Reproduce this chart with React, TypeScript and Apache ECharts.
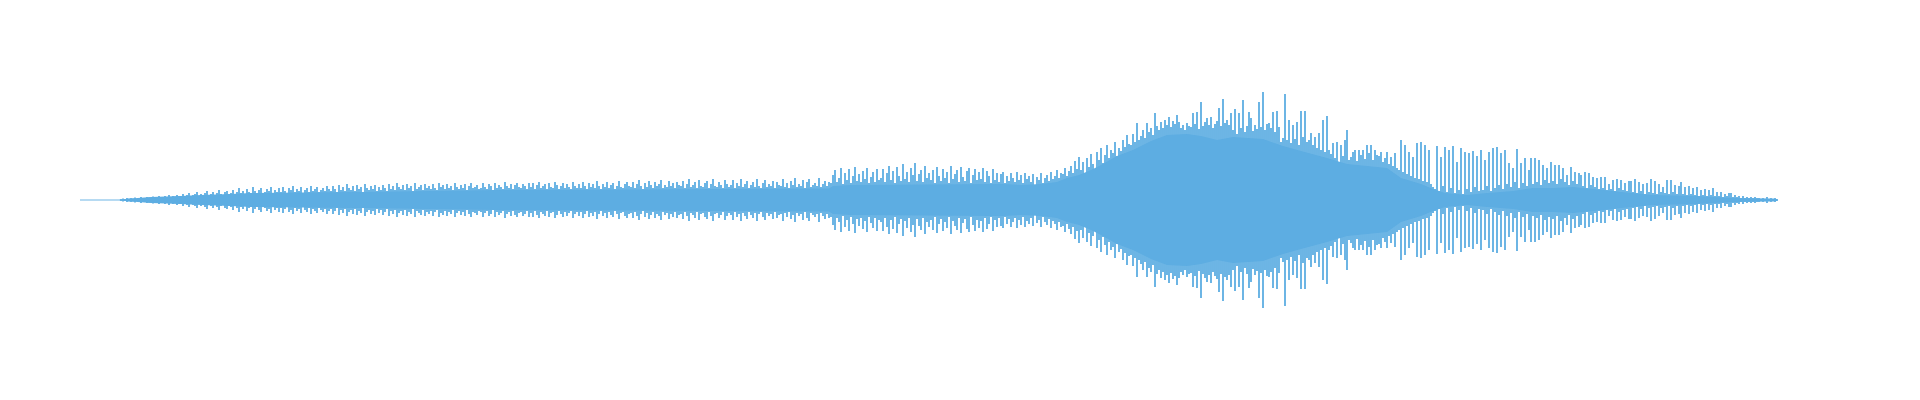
import React, { useEffect, useRef } from "react";
import * as echarts from "echarts";

// Amplitude of each sample bar (drawn mirrored above and below zero)
const SPIKE_AMPLITUDE: number[] = [
  0.5, 0.5, 0.5, 0.5, 0.5, 0.5, 0.5, 0.5, 0.5, 0.5, 0.5, 0.5, 0.5, 0.5, 0.5, 0.5, 0.5, 0.5, 0.5, 0.5, 1, 1.5, 1, 2, 1.5,
  2, 1.5, 2.5, 1, 2, 3, 2, 1.5, 3, 2.5, 2, 3.5, 2, 3, 4, 2.5, 3, 4, 3, 5, 3, 4, 3.5, 5, 4,
  4, 6, 3, 5, 7, 4, 5, 6, 8, 4, 6, 5, 7, 9, 5, 6, 8, 5, 7, 10, 6, 5, 8, 9, 6,
  7, 10, 6, 8, 12, 7, 9, 6, 11, 8, 7, 13, 9, 6, 10, 12, 7, 8, 11, 9, 13, 7, 10, 8, 12,
  8, 13, 9, 7, 12, 10, 14, 8, 11, 9, 13, 7, 10, 12, 8, 14, 9, 11, 13, 8, 10, 12, 9, 14, 11,
  9, 14, 11, 8, 15, 10, 13, 9, 16, 12, 10, 14, 9, 15, 11, 13, 8, 16, 12, 10, 14, 11, 15, 9, 13,
  10, 15, 12, 9, 16, 11, 14, 10, 17, 13, 11, 15, 10, 16, 12, 14, 9, 17, 11, 13, 15, 10, 16, 12, 14,
  11, 16, 12, 10, 17, 13, 15, 11, 16, 12, 14, 10, 17, 13, 11, 15, 12, 16, 10, 14, 17, 12, 13, 15, 11,
  12, 17, 13, 11, 16, 14, 10, 17, 12, 15, 13, 11, 18, 14, 12, 16, 11, 15, 17, 13, 12, 16, 14, 11, 17,
  13, 17, 11, 15, 18, 12, 14, 16, 11, 17, 13, 12, 18, 15, 11, 14, 17, 12, 16, 13, 11, 18, 14, 12, 16,
  12, 18, 14, 11, 17, 13, 16, 12, 19, 14, 11, 16, 13, 18, 12, 15, 17, 11, 14, 19, 13, 12, 16, 18, 14,
  13, 18, 12, 16, 20, 14, 11, 17, 13, 19, 15, 12, 18, 14, 16, 20, 12, 15, 13, 19, 14, 17, 12, 18, 15,
  14, 19, 12, 16, 21, 13, 15, 18, 12, 20, 14, 13, 17, 19, 12, 16, 21, 14, 13, 18, 15, 12, 20, 16, 13,
  15, 20, 12, 17, 14, 21, 13, 16, 19, 12, 15, 18, 13, 21, 14, 12, 17, 20, 13, 16, 14, 19, 12, 18, 15,
  14, 21, 13, 17, 12, 19, 15, 22, 13, 16, 14, 20, 12, 18, 21, 13, 15, 17, 14, 22, 13, 16, 19, 14, 18,
  17, 25, 30, 18, 22, 32, 16, 27, 20, 31, 17, 24, 33, 19, 26, 18, 29, 21, 32, 17, 23, 28, 18, 31, 20,
  22, 31, 18, 27, 34, 20, 29, 17, 33, 24, 19, 36, 21, 28, 18, 32, 25, 37, 19, 26, 30, 18, 34, 22, 27,
  20, 30, 17, 33, 24, 19, 31, 22, 28, 17, 34, 21, 26, 30, 18, 33, 23, 19, 29, 32, 17, 25, 31, 20, 28,
  21, 32, 18, 29, 24, 17, 31, 20, 27, 18, 26, 28, 17, 24, 19, 27, 22, 18, 28, 20, 25, 17, 27, 21, 24,
  18, 26, 15, 23, 20, 27, 17, 22, 25, 19, 28, 21, 24, 30, 22, 27, 26, 32, 24, 29, 34, 27, 39, 31, 43,
  30, 38, 27, 42, 33, 46, 36, 30, 48, 40, 52, 37, 45, 55, 42, 50, 47, 58, 44, 52, 49, 60, 53, 65, 56,
  55, 66, 58, 77, 60, 64, 70, 62, 77, 68, 72, 65, 87, 74, 70, 78, 72, 80, 75, 83, 73, 79, 76, 85, 78,
  72, 75, 70, 77, 74, 73, 87, 76, 88, 71, 98, 74, 78, 82, 75, 83, 72, 76, 79, 92, 74, 101, 77, 80, 75,
  87, 70, 91, 66, 87, 72, 100, 68, 74, 88, 82, 69, 75, 71, 98, 73, 108, 70, 76, 77, 72, 88, 68, 89, 73,
  58, 62, 106, 60, 80, 57, 75, 61, 78, 55, 89, 63, 89, 58, 60, 67, 55, 63, 52, 67, 50, 80, 48, 84, 50,
  46, 57, 42, 58, 38, 55, 44, 60, 70, 40, 43, 48, 50, 39, 50, 45, 50, 41, 55, 47, 55, 40, 50, 45, 44,
  48, 38, 42, 48, 36, 43, 34, 47, 32, 30, 60, 28, 55, 26, 48, 24, 43, 22, 57, 21, 58, 19, 55, 18, 50,
  16, 13, 11, 54, 9, 43, 14, 53, 8, 50, 12, 54, 7, 38, 10, 52, 6, 48, 11, 47, 8, 49, 13, 44, 9,
  50, 10, 40, 14, 48, 9, 52, 12, 53, 15, 47, 11, 50, 16, 37, 13, 32, 18, 51, 12, 37, 17, 42, 14, 30,
  42, 16, 42, 18, 40, 15, 35, 20, 32, 17, 38, 19, 35, 16, 35, 21, 32, 18, 25, 15, 33, 19, 28, 16, 27,
  25, 14, 28, 12, 27, 15, 23, 13, 22, 11, 23, 12, 23, 10, 16, 11, 20, 9, 21, 12, 20, 10, 17, 9, 19,
  19, 8, 21, 7, 18, 9, 16, 6, 17, 8, 21, 7, 19, 6, 16, 8, 13, 7, 20, 6, 20, 8, 15, 6, 14,
  18, 6, 13, 5, 14, 6, 12, 5, 13, 4, 10, 5, 11, 4, 10, 5, 12, 4, 8, 4, 8, 3, 6, 4, 7,
  7, 3, 5, 3, 4, 2, 4, 2, 3, 2, 3, 2, 3, 2, 2, 1.5, 2, 1.5, 3, 1.5, 2, 1.5, 2, 1,
];

// Dense body of the waveform: sample index -> amplitude
const CORE_INDEX: number[] = [
  0, 19, 20, 25, 35, 50, 60, 75, 85, 110, 140, 175, 210, 285, 320, 374, 376, 385, 460, 470, 480, 488, 493, 499,
  505, 510, 518, 526, 535, 543, 553, 560, 568, 576, 591, 601, 610, 623, 633, 643, 653, 660, 670, 676, 682, 693,
  703, 716, 726, 736, 746, 756, 766, 770, 786, 796, 808, 816, 826, 835, 848,
];
const CORE_AMPLITUDE: number[] = [
  0, 0, 0.5, 1.5, 3, 4, 5, 6, 7, 7.5, 8, 9, 10, 10.5, 11, 11.5, 14, 15, 16, 15, 16, 18, 22, 25,
  30, 35, 44, 50, 59, 65, 66, 64, 60, 63, 61, 54, 49, 42, 36, 34, 32, 22, 16, 11, 7, 5,
  7, 9, 12, 12, 13, 11, 9, 8, 5, 4.5, 4, 3, 2, 1.5, 1,
];

const COLOR = "#5dade2";

export default function App() {
  const ref = useRef<HTMLDivElement>(null);
  useEffect(() => {
    if (!ref.current) return;
    const chart = echarts.init(ref.current, null, { renderer: "svg" });
    const n = SPIKE_AMPLITUDE.length;
    const categories = SPIKE_AMPLITUDE.map((_, i) => String(i));
    chart.setOption({
      animation: false,
      grid: { left: 80, right: 142, top: 0, bottom: 0 },
      xAxis: [
        { type: "category", data: categories, show: false },
        { type: "value", min: -0.5, max: n - 0.5, show: false },
      ],
      yAxis: { type: "value", min: -200, max: 200, show: false, splitLine: { show: false } },
      series: [
        {
          type: "line",
          xAxisIndex: 1,
          data: CORE_INDEX.map((x, i) => [x, CORE_AMPLITUDE[i]]),
          symbol: "none",
          lineStyle: { width: 0 },
          areaStyle: { color: COLOR, opacity: 1 },
          silent: true,
        },
        {
          type: "line",
          xAxisIndex: 1,
          data: CORE_INDEX.map((x, i) => [x, -CORE_AMPLITUDE[i]]),
          symbol: "none",
          lineStyle: { width: 0 },
          areaStyle: { color: COLOR, opacity: 1 },
          silent: true,
        },
        {
          type: "bar",
          data: SPIKE_AMPLITUDE,
          barWidth: 1.8,
          itemStyle: { color: COLOR },
          silent: true,
        },
        {
          type: "bar",
          data: SPIKE_AMPLITUDE.map((v) => -v),
          barWidth: 1.8,
          barGap: "-100%",
          itemStyle: { color: COLOR },
          silent: true,
        },
      ],
    });
    return () => chart.dispose();
  }, []);
  return (
    <div
      ref={ref}
      style={{ position: "fixed", left: 0, top: 0, width: 1920, height: 400 }}
    />
  );
}
